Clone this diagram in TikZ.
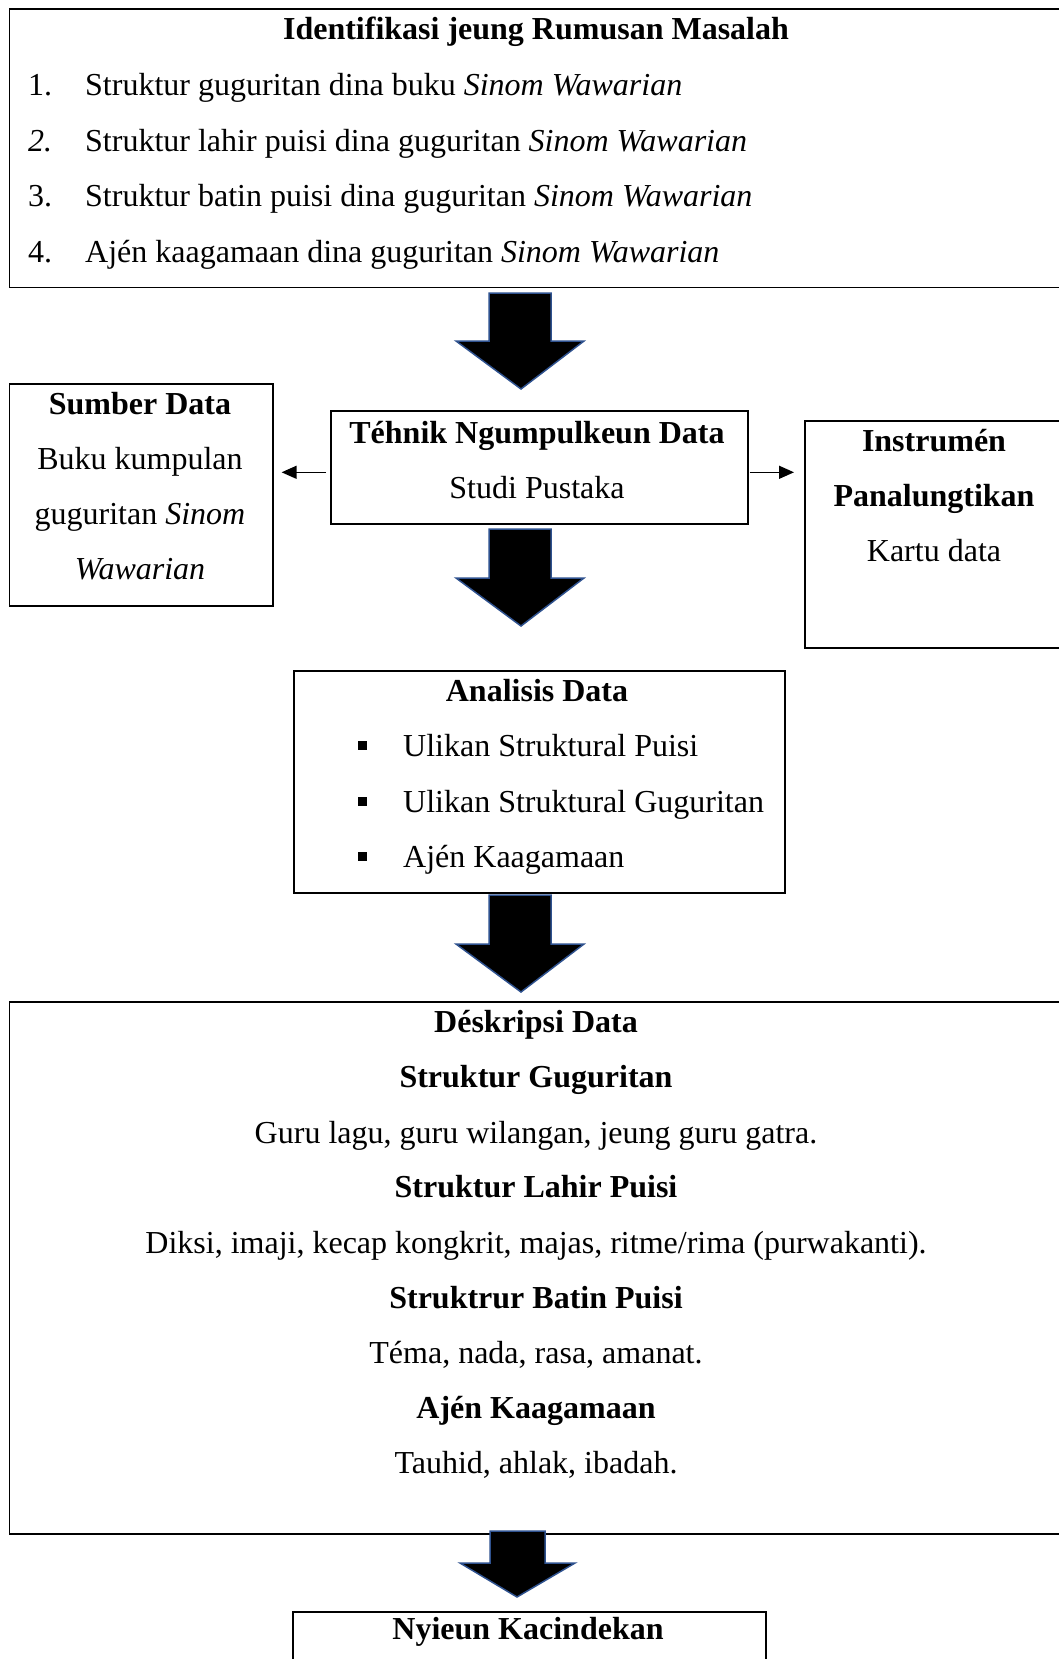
\documentclass[tikz,border=0pt]{standalone}
\usepackage{fontspec}
\setmainfont{Liberation Serif}
\usetikzlibrary{arrows.meta}
\definecolor{arrowedge}{RGB}{47,82,143}
\tikzset{
 box/.style={draw=black, line width=1.6pt, rectangle, inner sep=0pt, anchor=north west},
 txt/.style={anchor=base, inner sep=0pt, font=\fontsize{32}{38}\selectfont},
 bold/.style={txt, font=\fontsize{32}{38}\selectfont\bfseries},
 blockarrow/.style={fill=black, draw=arrowedge, line width=1.5pt, line join=miter},
 thinarrow/.style={-{Triangle[length=15pt,width=13pt]}, line width=1.4pt},
 bulletbox/.style={fill=black, inner sep=0pt, minimum size=9pt, anchor=center}
}
\begin{document}
\begin{tikzpicture}[x=1pt,y=-1pt]
\useasboundingbox (0,0) rectangle (1059,1659);
\clip (0,0) rectangle (1059,1659);
\fill[white] (0,0) rectangle (1059,1659);

% Top box
\node[box, minimum width=1080pt, minimum height=278pt] (rumusan) at (8.5,8.5) {};
\node[bold] (t0) at (536,40) {Identifikasi jeung Rumusan Masalah};
\node[txt, anchor=base west] (n1) at (28,96) {1.};
\node[txt, anchor=base west] (i1) at (85,96) {Struktur guguritan dina buku \textit{Sinom Wawarian}};
\node[txt, anchor=base west] (n2) at (28,151) {\textit{2.}};
\node[txt, anchor=base west] (i2) at (85,151) {Struktur lahir puisi dina guguritan \textit{Sinom Wawarian}};
\node[txt, anchor=base west] (n3) at (28,206) {3.};
\node[txt, anchor=base west] (i3) at (85,206) {Struktur batin puisi dina guguritan \textit{Sinom Wawarian}};
\node[txt, anchor=base west] (n4) at (28,262) {4.};
\node[txt, anchor=base west] (i4) at (85,262) {Ajén kaagamaan dina guguritan \textit{Sinom Wawarian}};

% Arrow 1
\draw[blockarrow] (489,293) -- (551,293) -- (551,341) -- (584,341) -- (521,389) -- (456,341) -- (489,341) -- cycle;

% Sumber Data
\node[box, minimum width=263.5pt, minimum height=222pt] (sumber) at (8.5,383) {};
\node[bold] (s0) at (140,414) {Sumber Data};
\node[txt] (s1) at (140,469) {Buku kumpulan};
\node[txt] (s2) at (140,524) {guguritan \textit{Sinom}};
\node[txt] (s3) at (140,579) {\textit{Wawarian}};

% Tehnik
\node[box, minimum width=417pt, minimum height=113pt] (tek) at (330,410) {};
\node[bold] (k0) at (537,443) {Téhnik Ngumpulkeun Data};
\node[txt] (k1) at (537,498) {Studi Pustaka};

% Instrumen
\node[box, minimum width=300pt, minimum height=227pt] (inst) at (804,420) {};
\node[bold] (m0) at (934,451) {Instrumén};
\node[bold] (m1) at (934,506) {Panalungtikan};
\node[txt] (m2) at (934,561) {Kartu data};

% thin arrows
\draw[thinarrow, shorten <=4pt, shorten >=8pt] ([yshift=-5pt]tek.west) -- ([yshift=-5pt]tek.west -| sumber.east);
\draw[thinarrow, shorten <=1pt, shorten >=10pt] ([yshift=-5pt]tek.east) -- ([yshift=-5pt]tek.east -| inst.west);

% Arrow 2
\draw[blockarrow] (489,529) -- (551,529) -- (551,578) -- (584,578) -- (521,626) -- (456,578) -- (489,578) -- cycle;

% Analisis
\node[box, minimum width=491pt, minimum height=222pt] (anal) at (293,670) {};
\node[bold] (a0) at (537,701) {Analisis Data};
\node[bulletbox] (b1) at (362,745) {};
\node[txt, anchor=base west] (a1) at (403,756) {Ulikan Struktural Puisi};
\node[bulletbox] (b2) at (362,801) {};
\node[txt, anchor=base west] (a2) at (403,812) {Ulikan Struktural Guguritan};
\node[bulletbox] (b3) at (362,856) {};
\node[txt, anchor=base west] (a3) at (403,867) {Ajén Kaagamaan};

% Arrow 3
\draw[blockarrow] (489,895) -- (551,895) -- (551,944) -- (584,944) -- (521,992) -- (456,944) -- (489,944) -- cycle;

% Deskripsi
\node[box, minimum width=1080pt, minimum height=532pt] (desk) at (8.5,1001) {};
\node[bold] (d0) at (536,1032) {Déskripsi Data};
\node[bold] (d1) at (536,1087) {Struktur Guguritan};
\node[txt] (d2) at (536,1143) {Guru lagu, guru wilangan, jeung guru gatra.};
\node[bold] (d3) at (536,1197) {Struktur Lahir Puisi};
\node[txt] (d4) at (536,1253) {Diksi, imaji, kecap kongkrit, majas, ritme/rima (purwakanti).};
\node[bold] (d5) at (536,1308) {Struktrur Batin Puisi};
\node[txt] (d6) at (536,1363) {Téma, nada, rasa, amanat.};
\node[bold] (d7) at (536,1418) {Ajén Kaagamaan};
\node[txt] (d8) at (536,1473) {Tauhid, ahlak, ibadah.};

% Arrow 4
\draw[blockarrow] (490,1531) -- (545,1531) -- (545,1563) -- (575,1563) -- (517,1597) -- (460,1563) -- (490,1563) -- cycle;

% Nyieun
\node[box, minimum width=473pt, minimum height=100pt] (nyieun) at (292,1611) {};
\node[bold] (y0) at (528,1639) {Nyieun Kacindekan};
\end{tikzpicture}
\end{document}
